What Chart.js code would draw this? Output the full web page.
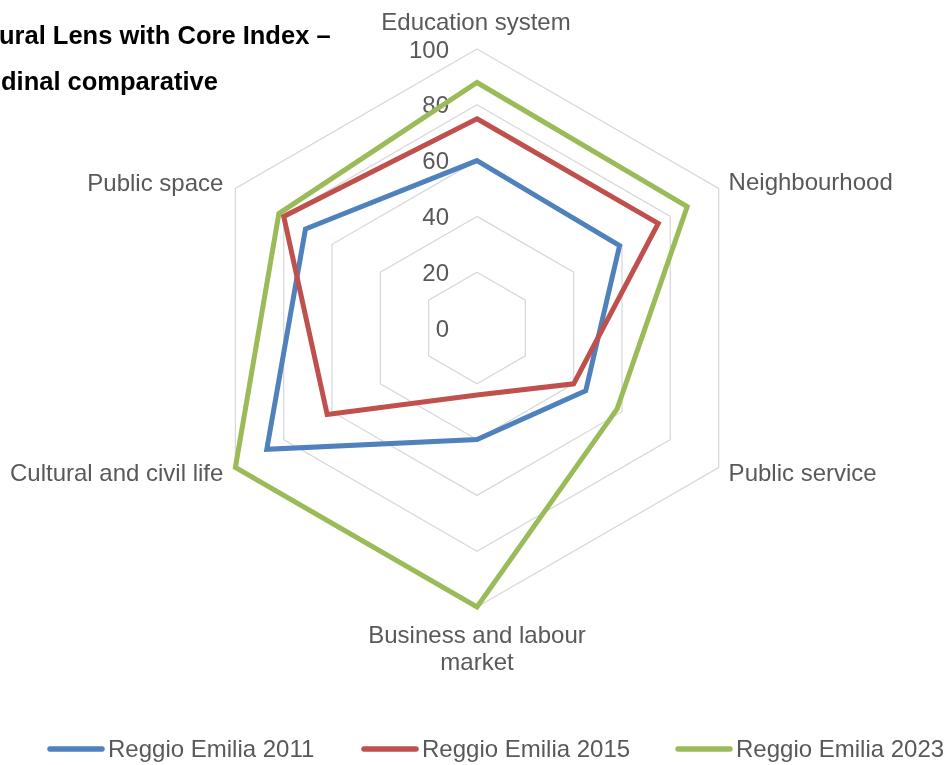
<!DOCTYPE html>
<html>
<head>
<meta charset="utf-8">
<script src="https://cdn.jsdelivr.net/npm/chart.js@4.4.0/dist/chart.umd.min.js"></script>
<style>
  body { margin: 0; background: #fff; }
  #wrap { width: 948px; height: 765px; position: relative; }
</style>
</head>
<body>
<div id="wrap"><canvas id="radar"></canvas></div>
<script>
const categories = [
  'Education system',
  'Neighbourhood',
  'Public service',
  ['Business and labour', 'market'],
  'Cultural and civil life',
  'Public space'
];
const tickValues = [0, 20, 40, 60, 80, 100];
const seriesNames = ['Reggio Emilia 2011', 'Reggio Emilia 2015', 'Reggio Emilia 2023'];
const values2011 = [60, 59, 45, 40, 87, 71];
const values2015 = [75, 75, 40, 24, 62, 80];
const values2023 = [88, 87, 58, 100, 100, 82];
const titleLines = ['ural Lens with Core Index –', 'dinal comparative'];

const seriesColors = ['#4F81BD', '#C0504D', '#9BBB59'];
const textGrey = '#595959';
const labelFont = '24px "Liberation Sans", Arial, sans-serif';

// where each axis label sits relative to its outer vertex
const labelPlacement = [
  { dx: -1, dy: -26, align: 'center' },
  { dx: 10, dy: -5, align: 'left' },
  { dx: 10, dy: 7, align: 'left' },
  { dx: 0, dy: 29, align: 'center' },
  { dx: -12, dy: 7, align: 'right' },
  { dx: -12, dy: -4, align: 'right' }
];

const overlay = {
  id: 'overlay',
  beforeDatasetsDraw(chart) {
    const ctx = chart.ctx;
    const r = chart.scales.r;
    ctx.save();
    ctx.font = labelFont;
    ctx.fillStyle = textGrey;
    ctx.textAlign = 'right';
    ctx.textBaseline = 'middle';
    tickValues.forEach(v => {
      const d = r.getDistanceFromCenterForValue(v);
      ctx.fillText(String(v), r.xCenter - 28, r.yCenter - d + 2);
    });
    ctx.restore();
  },
  afterDraw(chart) {
    const ctx = chart.ctx;
    const r = chart.scales.r;
    ctx.save();

    // title, running off the left edge
    ctx.font = 'bold 25.5px "Liberation Sans", Arial, sans-serif';
    ctx.fillStyle = '#000';
    ctx.textAlign = 'left';
    ctx.textBaseline = 'middle';
    ctx.fillText(titleLines[0], -1, 37);
    ctx.fillText(titleLines[1], 1, 83);

    // axis labels
    ctx.font = labelFont;
    ctx.fillStyle = textGrey;
    categories.forEach((label, i) => {
      const p = r.getPointPosition(i, r.drawingArea);
      const place = labelPlacement[i];
      const lines = Array.isArray(label) ? label : [label];
      ctx.textAlign = place.align;
      lines.forEach((line, k) => {
        ctx.fillText(line, p.x + place.dx, p.y + place.dy + k * 27);
      });
    });

    // legend
    const legendY = 749;
    const legendX = [48, 362, 676];
    ctx.textAlign = 'left';
    ctx.lineCap = 'round';
    ctx.lineWidth = 5.5;
    seriesNames.forEach((name, i) => {
      ctx.strokeStyle = seriesColors[i];
      ctx.beginPath();
      ctx.moveTo(legendX[i] + 2, legendY);
      ctx.lineTo(legendX[i] + 54, legendY);
      ctx.stroke();
      ctx.fillText(name, legendX[i] + 60, legendY + 1);
    });
    ctx.restore();
  }
};

const allValues = [values2011, values2015, values2023];

new Chart(document.getElementById('radar'), {
  type: 'radar',
  data: {
    labels: categories,
    datasets: seriesNames.map((name, i) => ({
      label: name,
      data: allValues[i],
      borderColor: seriesColors[i],
      backgroundColor: 'transparent',
      borderWidth: 5,
      pointRadius: 0,
      pointHoverRadius: 0,
      fill: false,
      order: 3 - i
    }))
  },
  options: {
    responsive: true,
    maintainAspectRatio: false,
    animation: false,
    layout: { padding: { left: 198, right: 192, top: 49, bottom: 158 } },
    plugins: {
      legend: { display: false },
      tooltip: { enabled: false }
    },
    scales: {
      r: {
        min: 0,
        max: 100,
        ticks: { stepSize: 20, display: false },
        grid: { color: '#D9D9D9', lineWidth: 1.3 },
        angleLines: { display: false },
        pointLabels: { display: false }
      }
    }
  },
  plugins: [overlay]
});
</script>
</body>
</html>
